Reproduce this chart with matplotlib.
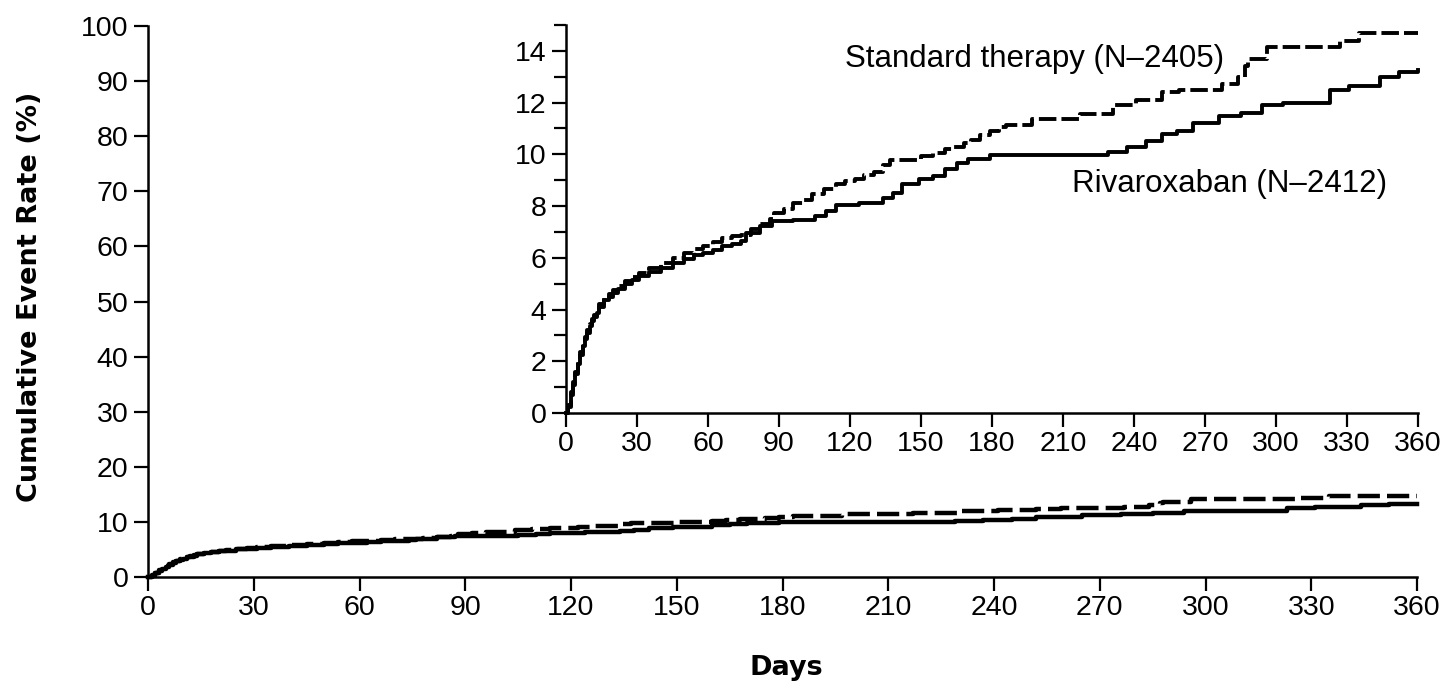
"""
Cumulative event rate, rivaroxaban vs standard therapy, with zoomed inset
"""
import matplotlib
matplotlib.use("Agg")
import matplotlib.pyplot as plt
from matplotlib import rcParams
from matplotlib.ticker import MultipleLocator

rcParams["font.family"] = ["Liberation Sans", "DejaVu Sans"]

# Standard therapy (dashed) — Kaplan-Meier knots
std_days = [0, 1, 2, 3, 4, 5, 6, 7, 8, 9, 10, 11, 12, 13, 14, 16, 18, 20, 22, 25,
            28, 31, 35, 40, 45, 50, 54, 58, 62, 66, 70, 74, 78, 82, 86, 88, 92, 96, 100, 104,
            109, 114, 118, 122, 126, 130, 134, 137, 150, 155, 160, 164, 168, 171, 175, 179, 183, 186, 197, 217,
            231, 241, 252, 259, 277, 284, 287, 288, 296, 327, 335, 360]
std_vals = [0, 0.3, 0.8, 1.2, 1.6, 2.0, 2.35, 2.7, 2.95, 3.2, 3.45, 3.65, 3.8, 3.95, 4.2, 4.45, 4.6, 4.75, 4.9, 5.1,
            5.25, 5.4, 5.6, 5.8, 6.0, 6.2, 6.35, 6.45, 6.6, 6.75, 6.85, 6.9, 7.1, 7.3, 7.5, 7.75, 7.9, 8.1, 8.25, 8.45,
            8.65, 8.85, 8.95, 9.05, 9.2, 9.3, 9.6, 9.8, 9.95, 10.05, 10.2, 10.3, 10.45, 10.55, 10.75, 10.9, 11.05, 11.15, 11.35, 11.55,
            11.9, 12.1, 12.4, 12.5, 12.7, 13.0, 13.4, 13.7, 14.15, 14.4, 14.7, 14.7]

# Rivaroxaban (solid)
riv_days = [0, 1, 2, 3, 4, 5, 6, 7, 8, 9, 10, 11, 12, 13, 14, 16, 18, 20, 22, 25,
            28, 31, 35, 40, 45, 50, 54, 58, 62, 66, 70, 74, 76, 82, 87, 96, 105, 110, 114, 124,
            134, 138, 142, 149, 155, 160, 165, 170, 179, 229, 237, 245, 252, 258, 265, 276, 285, 294, 303, 323,
            331, 344, 352, 360]
riv_vals = [0, 0.25, 0.7, 1.1, 1.5, 1.9, 2.25, 2.6, 2.85, 3.1, 3.35, 3.55, 3.7, 3.85, 4.1, 4.35, 4.5, 4.65, 4.8, 5.0,
            5.15, 5.3, 5.45, 5.6, 5.8, 5.95, 6.1, 6.2, 6.3, 6.45, 6.55, 6.65, 6.97, 7.22, 7.41, 7.48, 7.61, 7.8, 8.06, 8.12,
            8.32, 8.51, 8.84, 9.04, 9.16, 9.42, 9.68, 9.83, 9.96, 10.1, 10.3, 10.5, 10.8, 10.9, 11.2, 11.5, 11.6, 11.9, 12.0, 12.5,
            12.65, 13.0, 13.2, 13.25]

x_ticks = list(range(0, 361, 30))
main_y_ticks = list(range(0, 101, 10))
inset_y_ticks = list(range(0, 15, 2))

std_label = "Standard therapy (N\u20132405)"
riv_label = "Rivaroxaban (N\u20132412)"

W, H = 1451, 692
fig = plt.figure(figsize=(W / 100, H / 100), dpi=100)

# ---------------------------------------------------------------
# main axes
# ---------------------------------------------------------------
ax = fig.add_axes([148 / W, 115 / H, (1417 - 148) / W, (577 - 26) / H])
ax.plot(std_days, std_vals, drawstyle="steps-post", color="black", lw=3.2,
        dashes=(5, 1.6), clip_on=False)
ax.plot(riv_days, riv_vals, drawstyle="steps-post", color="black", lw=3.2,
        clip_on=False)
ax.set_xlim(0, 360)
ax.set_ylim(0, 100)
ax.set_xticks(x_ticks)
ax.set_yticks(main_y_ticks)
for s in ("top", "right"):
    ax.spines[s].set_visible(False)
for s in ("left", "bottom"):
    ax.spines[s].set_linewidth(1.8)
ax.tick_params(axis="both", length=10, width=1.6, labelsize=20.5, direction="out")
ax.tick_params(axis="x", pad=3)
ax.tick_params(axis="y", pad=4)

fig.text(30 / W, 1 - 297 / H, "Cumulative Event Rate (%)", rotation=90,
         ha="center", va="center", fontsize=19.5, fontweight="bold", family="DejaVu Sans")
fig.text(786 / W, 1 - 668 / H, "Days", ha="center", va="center",
         fontsize=19.5, fontweight="bold", family="DejaVu Sans")

# ---------------------------------------------------------------
# inset
# ---------------------------------------------------------------
ins = fig.add_axes([566 / W, (H - 413) / H, (1418 - 566) / W, (413 - 25) / H])
ins.set_facecolor("white")
ins.plot(std_days, std_vals, drawstyle="steps-post", color="black", lw=2.8,
         dashes=(4.5, 1.3), clip_on=False)
ins.plot(riv_days, riv_vals, drawstyle="steps-post", color="black", lw=2.8,
         clip_on=False)
ins.set_xlim(0, 360)
ins.set_ylim(0, 15)
ins.set_xticks(x_ticks)
ins.set_yticks(inset_y_ticks)
ins.yaxis.set_minor_locator(MultipleLocator(1))
for s in ("top", "right"):
    ins.spines[s].set_visible(False)
for s in ("left", "bottom"):
    ins.spines[s].set_linewidth(1.8)
ins.tick_params(axis="both", which="major", length=10, width=1.6, labelsize=20.5)
ins.tick_params(axis="y", which="minor", length=9, width=1.6)
ins.tick_params(axis="x", pad=3)
ins.tick_params(axis="y", pad=4)

ins.text(117.9, 13.68, std_label, ha="left", va="center", fontsize=22.5)
ins.text(213.8, 8.84, riv_label, ha="left", va="center", fontsize=22.5)

fig.savefig("out.png", dpi=100, facecolor="white")
plt.close(fig)
